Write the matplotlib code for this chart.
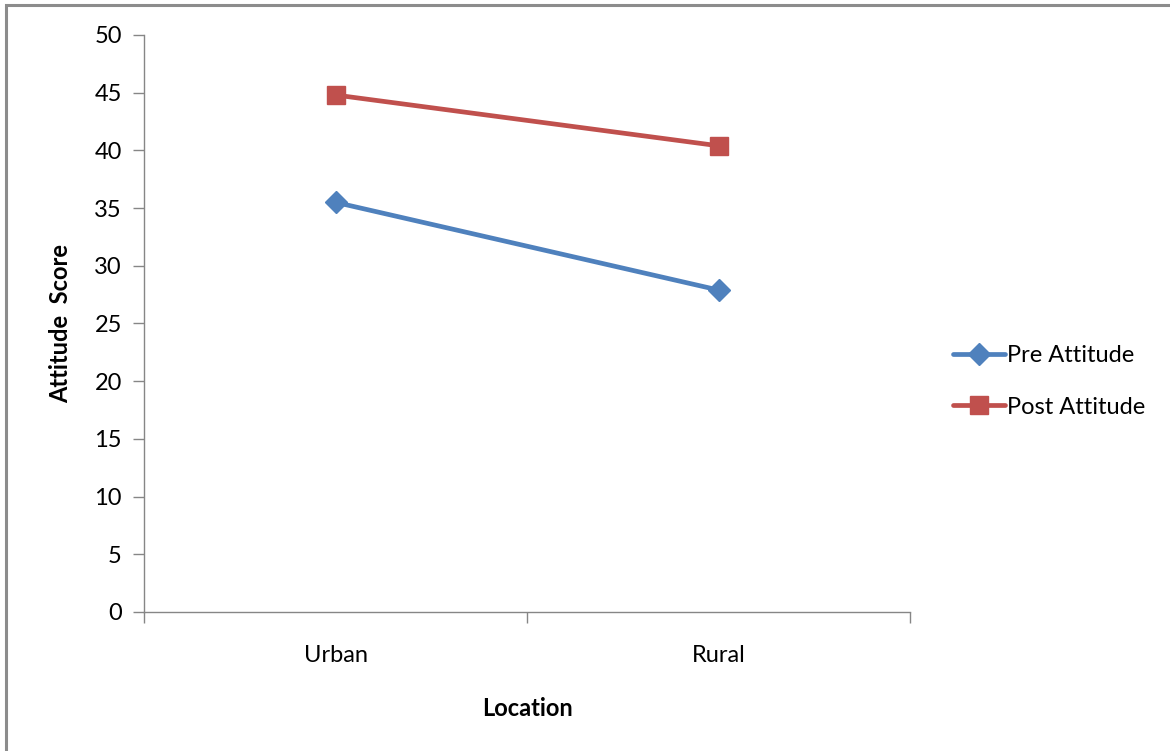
import matplotlib.pyplot as plt
from matplotlib.patches import Rectangle

plt.rcParams['font.family'] = ['Lato', 'DejaVu Sans']

locations = ["Urban", "Rural"]
pre_attitude = [35.5, 27.9]
post_attitude = [44.8, 40.4]
y_ticks = [0, 5, 10, 15, 20, 25, 30, 35, 40, 45, 50]

blue = "#4F81BD"
red = "#C0504D"
grey = "#868686"

fig = plt.figure(figsize=(11.7, 7.51), dpi=100)
ax = fig.add_axes([144 / 1170, 1 - 612 / 751, (910 - 144) / 1170, (612 - 35) / 751])

x = list(range(len(locations)))
ax.plot(x, pre_attitude, color=blue, lw=3.4, marker="D", ms=11,
        label="Pre Attitude", solid_capstyle="round")
ax.plot(x, post_attitude, color=red, lw=3.4, marker="s", ms=13,
        label="Post Attitude", solid_capstyle="round")

ax.set_xlim(-0.5, len(locations) - 0.5)
ax.set_ylim(0, 50)
ax.set_yticks(y_ticks)

# category ticks sit between the categories, labels in the middle
ax.set_xticks([i - 0.5 for i in range(len(locations) + 1)])
ax.set_xticklabels([])
ax.set_xticks(x, minor=True)
ax.set_xticklabels(locations, minor=True)
ax.tick_params(axis="x", which="minor", length=0, pad=24, labelsize=17)
ax.tick_params(axis="x", which="major", length=8, color=grey, width=1)
ax.tick_params(axis="y", length=8, color=grey, width=1, pad=8, labelsize=17)

for side in ["top", "right"]:
    ax.spines[side].set_visible(False)
for side in ["left", "bottom"]:
    ax.spines[side].set_color(grey)
    ax.spines[side].set_linewidth(1)

ax.set_xlabel("Location", fontsize=17, fontweight="bold", labelpad=22)
ax.set_ylabel("Attitude  Score", fontsize=17, fontweight="bold", labelpad=16)

ax.legend(loc="center left", bbox_to_anchor=(1.028, 0.40), frameon=False,
          fontsize=17, handlelength=2.2, handletextpad=0.1, labelspacing=1.3)

# chart frame (only left and top edges fall inside the image)
fig.patches.append(Rectangle((6 / 1170, -0.5), 2, 1.5 - 5 / 751,
                             transform=fig.transFigure, fill=False,
                             edgecolor="#8c8c8c", lw=2.2, clip_on=False))

fig.savefig("out.png", dpi=100)
